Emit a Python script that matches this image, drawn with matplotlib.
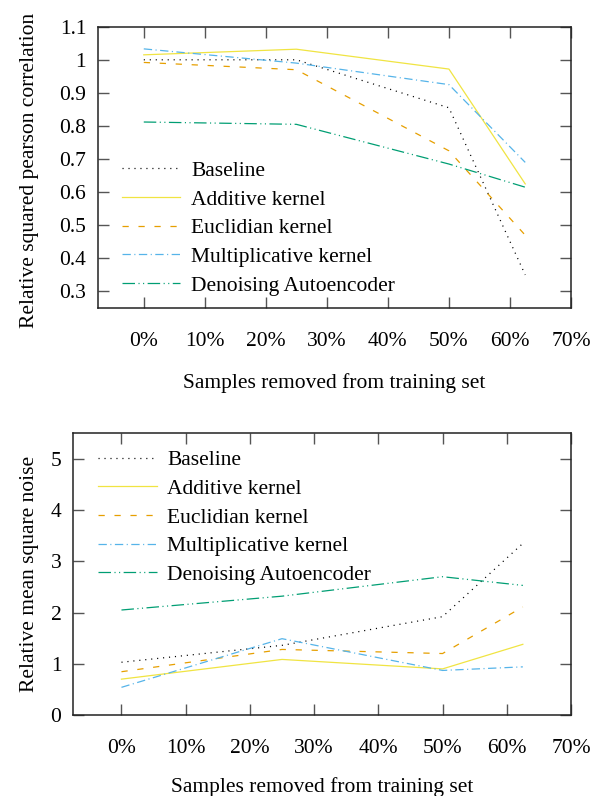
import matplotlib
matplotlib.use("Agg")
import matplotlib.pyplot as plt

plt.rcParams['font.family'] = ['Liberation Serif', 'DejaVu Serif']
plt.rcParams['lines.scale_dashes'] = False

x_removed = [0, 25, 50, 62.5]
series_names = ["Baseline", "Additive kernel", "Euclidian kernel",
                "Multiplicative kernel", "Denoising Autoencoder"]

corr_baseline = [1.0, 1.0, 0.855, 0.35]
corr_additive = [1.015, 1.032, 0.972, 0.625]
corr_euclidian = [0.992, 0.97, 0.725, 0.47]
corr_multiplicative = [1.033, 0.99, 0.925, 0.69]
corr_denoising = [0.812, 0.805, 0.685, 0.615]

noise_baseline = [1.03, 1.36, 1.92, 3.35]
noise_additive = [0.70, 1.085, 0.90, 1.38]
noise_euclidian = [0.845, 1.28, 1.20, 2.11]
noise_multiplicative = [0.54, 1.49, 0.87, 0.94]
noise_denoising = [2.05, 2.32, 2.70, 2.53]

xticks = [0, 10, 20, 30, 40, 50, 60, 70]
xticklabels = ["0%", "10%", "20%", "30%", "40%", "50%", "60%", "70%"]
corr_yticks = [0.3, 0.4, 0.5, 0.6, 0.7, 0.8, 0.9, 1.0, 1.1]
corr_yticklabels = ["0.3", "0.4", "0.5", "0.6", "0.7", "0.8", "0.9", "1", "1.1"]
noise_yticks = [0, 1, 2, 3, 4, 5]

colors = ["#000000", "#f0e442", "#e69f00", "#56b4e9", "#009e73"]
styles = [(0, (0.8, 3.5)), "-", (0, (4.5, 7)), (0, (6, 2.5, 0.8, 2.5)),
          (0, (9, 2.5, 0.8, 2.5, 0.8, 2.5))]

FS = 15.5

fig = plt.figure(figsize=(5.95, 7.96), dpi=100)
ax1 = fig.add_axes([98/595, 1-308/796, (571-98)/595, (308-26.7)/796])
ax2 = fig.add_axes([73.3/595, 1-715/796, (571-73.3)/595, (715-433.3)/796])


def style_axes(ax):
    for s in ax.spines.values():
        s.set_linewidth(1.1)
        s.set_color("#222222")
    ax.tick_params(axis='both', direction='in', top=True, right=True,
                   length=8, width=1.0, color="#555555", labelsize=FS)
    ax.tick_params(axis='x', pad=17.5)
    ax.tick_params(axis='y', pad=8.5)
    ax.set_xlim(-7.5, 70)
    ax.set_xticks(xticks)
    ax.set_xticklabels(xticklabels)


corr = [corr_baseline, corr_additive, corr_euclidian, corr_multiplicative, corr_denoising]
noise = [noise_baseline, noise_additive, noise_euclidian, noise_multiplicative, noise_denoising]

for vals, name, c, ls in zip(corr, series_names, colors, styles):
    ax1.plot(x_removed, vals, color=c, linestyle=ls, lw=0.9, label=name)
for vals, name, c, ls in zip(noise, series_names, colors, styles):
    ax2.plot(x_removed, vals, color=c, linestyle=ls, lw=0.9, label=name)

style_axes(ax1)
style_axes(ax2)

ax1.set_ylim(0.25, 1.1)
ax1.set_yticks(corr_yticks)
ax1.set_yticklabels(corr_yticklabels)
ax2.set_ylim(0, 5.5)
ax2.set_yticks(noise_yticks)

ax1.set_ylabel("Relative squared pearson correlation", fontsize=FS)
ax1.yaxis.set_label_coords(-0.125, 0.49)
ax2.set_ylabel("Relative mean square noise", fontsize=FS)
ax2.yaxis.set_label_coords(-0.069, 0.5)

ax1.set_xlabel("Samples removed from training set", fontsize=FS, va='top')
ax1.xaxis.set_label_coords(0.5, -0.232)
ax2.set_xlabel("Samples removed from training set", fontsize=FS, va='top')
ax2.xaxis.set_label_coords(0.5, -0.22)

leg_kw = dict(frameon=False, fontsize=FS, handlelength=2.72, handletextpad=0.5,
              labelspacing=0.4, borderpad=0, borderaxespad=0, loc='upper left')
ax1.legend(bbox_to_anchor=(0.05, 0.523), **leg_kw)
ax2.legend(bbox_to_anchor=(0.0496, 0.94), **leg_kw)

fig.savefig("out.png", dpi=100)
